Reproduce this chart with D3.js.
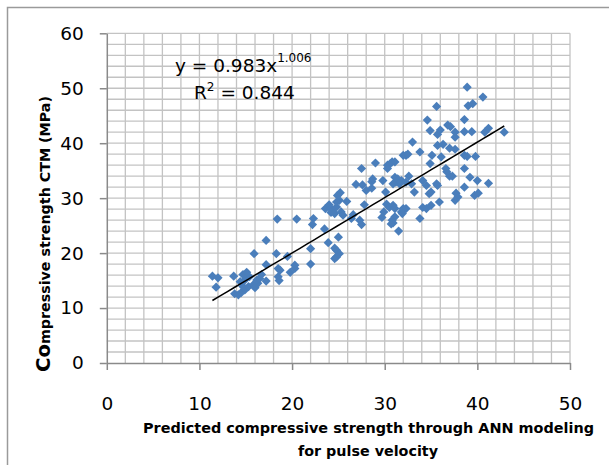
<!DOCTYPE html>
<html>
<head>
<meta charset="utf-8">
<script src="https://cdn.jsdelivr.net/npm/d3@7"></script>
<style>
  html, body { margin: 0; padding: 0; background: #ffffff; }
  svg { display: block; }
</style>
</head>
<body>
<svg id="chart" width="609" height="465"></svg>
<script>
// ---- data ----
const predicted = [
  11.4, 12.0, 11.8, 13.7, 13.8, 14.2, 14.5, 14.9, 14.7, 14.4, 14.9, 15.4, 14.7, 15.1, 15.3, 15.8, 16.0, 16.3, 16.2, 16.5,
  16.7, 15.9, 17.2, 17.2, 17.2, 18.4, 18.3, 18.5, 18.7, 18.5, 18.6, 19.5, 19.8, 20.3, 20.3, 20.5,
  22.0, 22.0, 22.3, 22.2, 23.5, 23.9, 23.6, 24.0, 24.2, 24.4, 24.8, 24.2, 24.6, 24.6, 24.8, 25.1, 24.8, 24.6, 25.0,
  25.2, 24.9, 25.1, 24.8, 25.9, 25.3, 25.5, 26.4, 26.6, 26.9, 27.6, 27.5, 27.3, 27.5, 27.8, 28.0, 28.6, 28.6, 28.7,
  29.0, 29.8, 29.9, 29.7, 30.1,
  30.3, 30.6, 30.8, 31.1, 30.3, 31.1, 31.4, 31.8, 31.2, 31.6, 30.9, 32.3, 32.9, 33.2, 34.1, 34.5, 34.8, 35.0, 35.6,
  35.7, 35.9, 34.1, 34.5, 35.0, 30.2, 30.5, 30.9, 31.1, 32.0, 32.3, 31.8, 31.9, 31.1, 30.8, 30.9, 30.7, 33.8, 31.5,
  33.0, 34.9, 35.7, 35.7, 32.0, 32.3, 32.5, 33.8, 35.1, 34.9, 34.6, 35.6, 32.6,
  36.0, 36.3, 37.0, 37.6, 38.6, 38.9, 39.8, 36.1, 36.6, 37.0, 37.3, 36.7, 38.6, 39.2, 40.0, 41.2, 38.6, 37.7, 37.9,
  37.6, 39.7, 40.1, 38.9, 40.6, 39.0, 39.5, 38.6, 36.8, 37.1, 37.6, 37.6, 38.6, 39.4, 40.8, 41.2, 42.9
];
const measured = [
  15.8, 15.5, 13.8, 15.8, 12.6, 12.4, 12.8, 13.3, 13.9, 14.8, 15.1, 15.7, 16.1, 16.5, 13.9, 14.2, 13.7, 14.5, 15.1, 15.4,
  16.1, 19.9, 22.3, 17.9, 14.9, 26.2, 19.9, 17.2, 16.9, 15.7, 15.0, 19.4, 16.5, 17.8, 17.2, 26.2,
  20.8, 18.0, 26.3, 25.2, 24.4, 21.9, 28.1, 28.8, 28.1, 27.8, 28.4, 27.4, 27.2, 20.9, 20.5, 19.9, 19.3, 19.0, 22.9,
  31.0, 30.5, 29.6, 29.3, 29.4, 27.5, 26.9, 26.3, 27.0, 32.5, 32.4, 35.4, 26.0, 25.2, 28.8, 31.4, 31.8, 33.0, 33.5,
  36.4, 33.2, 27.5, 26.5, 31.1,
  36.0, 36.3, 36.6, 36.6, 35.4, 33.8, 33.5, 33.2, 32.9, 32.6, 32.6, 32.9, 32.6, 31.1, 33.2, 32.3, 30.8, 31.1, 32.6,
  32.3, 29.3, 28.3, 28.1, 28.7, 28.9, 28.3, 28.7, 28.1, 28.1, 28.1, 27.5, 27.2, 26.6, 26.0, 25.5, 25.3, 26.3, 24.0,
  40.2, 42.3, 41.6, 39.6, 37.8, 37.8, 38.0, 38.4, 37.8, 36.3, 44.2, 46.7, 34.0,
  42.4, 39.8, 39.1, 38.9, 37.8, 37.6, 37.6, 37.5, 35.4, 34.0, 34.0, 34.8, 35.4, 33.8, 33.2, 32.7, 32.0, 30.9, 30.2,
  29.6, 30.5, 30.9, 50.2, 48.4, 46.8, 47.2, 44.3, 43.3, 43.0, 42.0, 41.1, 42.1, 42.1, 42.0, 42.7, 42.0
];
const xTickValues = [0, 10, 20, 30, 40, 50];
const yTickValues = [0, 10, 20, 30, 40, 50, 60];
const fitCoef = 0.983;
const fitExp = 1.006;
const r2Text = "0.844";
const xTitleLines = ["Predicted compressive strength through ANN modeling", "for pulse velocity"];
const yTitleBig = "Co";
const yTitleRest = "mpressive strength CTM (MPa)";

(function () {
// ---- layout ----
const svg = d3.select("#chart");
const plotL = 106.8, plotR = 570, plotT = 33.3, plotB = 363;
const x = d3.scaleLinear().domain([0, 50]).range([plotL, plotR]);
const y = d3.scaleLinear().domain([0, 60]).range([plotB, plotT]);

// outer chart frame
svg.append("rect").attr("x", 7.5).attr("y", 7.5).attr("width", 640).attr("height", 500)
  .attr("fill", "none").attr("stroke", "#9a9a9a").attr("stroke-width", 1.5);

// gridlines every 2 units
const grid = svg.append("g");
grid.selectAll("line.v").data(d3.range(2, 51, 2)).join("line")
  .attr("x1", d => x(d)).attr("x2", d => x(d)).attr("y1", y(0)).attr("y2", y(60))
  .attr("stroke", "#c3c3c3").attr("stroke-width", 1.3);
grid.selectAll("line.h").data(d3.range(2, 61, 2)).join("line")
  .attr("x1", x(0)).attr("x2", x(50)).attr("y1", d => y(d)).attr("y2", d => y(d))
  .attr("stroke", "#c3c3c3").attr("stroke-width", 1.3);

const tickFont = "'DejaVu Sans', sans-serif";

// axes
const yAxis = svg.append("g").attr("transform", `translate(${plotL},0)`)
  .call(d3.axisLeft(y).tickValues(yTickValues).tickSize(7).tickSizeOuter(0).tickPadding(16).tickFormat(d3.format("d")));
const xAxis = svg.append("g").attr("transform", `translate(0,${plotB})`)
  .call(d3.axisBottom(x).tickValues(xTickValues).tickSize(7).tickSizeOuter(0).tickPadding(27).tickFormat(d3.format("d")));
[xAxis, yAxis].forEach(g => {
  g.select(".domain").attr("stroke", "#8a8a8a").attr("stroke-width", 1.5);
  g.selectAll(".tick line").attr("stroke", "#8a8a8a").attr("stroke-width", 1.5);
  g.selectAll(".tick text").attr("fill", "#000").attr("font-family", tickFont).attr("font-size", 18.5);
});

// markers
const pts = predicted.map((p, i) => [p, measured[i]]);
const s = 4.6;
svg.append("g").selectAll("path").data(pts).join("path")
  .attr("d", `M0,${-s}L${s},0L0,${s}L${-s},0Z`)
  .attr("transform", d => `translate(${x(d[0])},${y(d[1])})`)
  .attr("fill", "#4a7ebb");

// power trendline y = a x^b over the data range
const xmin = d3.min(predicted), xmax = d3.max(predicted);
const trend = d3.range(0, 41).map(i => {
  const xv = xmin + (xmax - xmin) * i / 40;
  return [xv, fitCoef * Math.pow(xv, fitExp)];
});
svg.append("path").datum(trend)
  .attr("d", d3.line().x(d => x(d[0])).y(d => y(d[1])))
  .attr("fill", "none").attr("stroke", "#000").attr("stroke-width", 1.5);

// equation labels
const eq = svg.append("text").attr("x", 175).attr("y", 72)
  .attr("font-family", tickFont).attr("font-size", 18.5).attr("fill", "#000");
eq.append("tspan").text(`y = ${fitCoef}x`);
eq.append("tspan").attr("font-size", 12).attr("dy", -10).text(String(fitExp.toFixed(3)));
const r2 = svg.append("text").attr("x", 194).attr("y", 99)
  .attr("font-family", tickFont).attr("font-size", 18.5).attr("fill", "#000");
r2.append("tspan").text("R");
r2.append("tspan").attr("font-size", 12).attr("dy", -8).text("2");
r2.append("tspan").attr("dy", 8).text(` = ${r2Text}`);

// x axis title
const titleFont = "'DejaVu Sans', sans-serif";
svg.append("text").attr("x", 368.5).attr("y", 433).attr("text-anchor", "middle")
  .attr("font-family", titleFont).attr("font-weight", "bold").attr("font-size", 14).attr("fill", "#000")
  .attr("textLength", 451).attr("lengthAdjust", "spacingAndGlyphs")
  .text(xTitleLines[0]);
svg.append("text").attr("x", 368).attr("y", 456).attr("text-anchor", "middle")
  .attr("font-family", titleFont).attr("font-weight", "bold").attr("font-size", 14).attr("fill", "#000")
  .attr("textLength", 140).attr("lengthAdjust", "spacingAndGlyphs")
  .text(xTitleLines[1]);

// y axis title (rotated, larger leading letters)
const yt = svg.append("text").attr("transform", "translate(50,372) rotate(-90)")
  .attr("text-anchor", "start")
  .attr("font-family", titleFont).attr("font-weight", "bold").attr("fill", "#000")
  .attr("textLength", 276).attr("lengthAdjust", "spacingAndGlyphs");
yt.append("tspan").attr("font-size", 20).text(yTitleBig);
yt.append("tspan").attr("font-size", 14.5).text(yTitleRest);
})();
</script>
</body>
</html>
